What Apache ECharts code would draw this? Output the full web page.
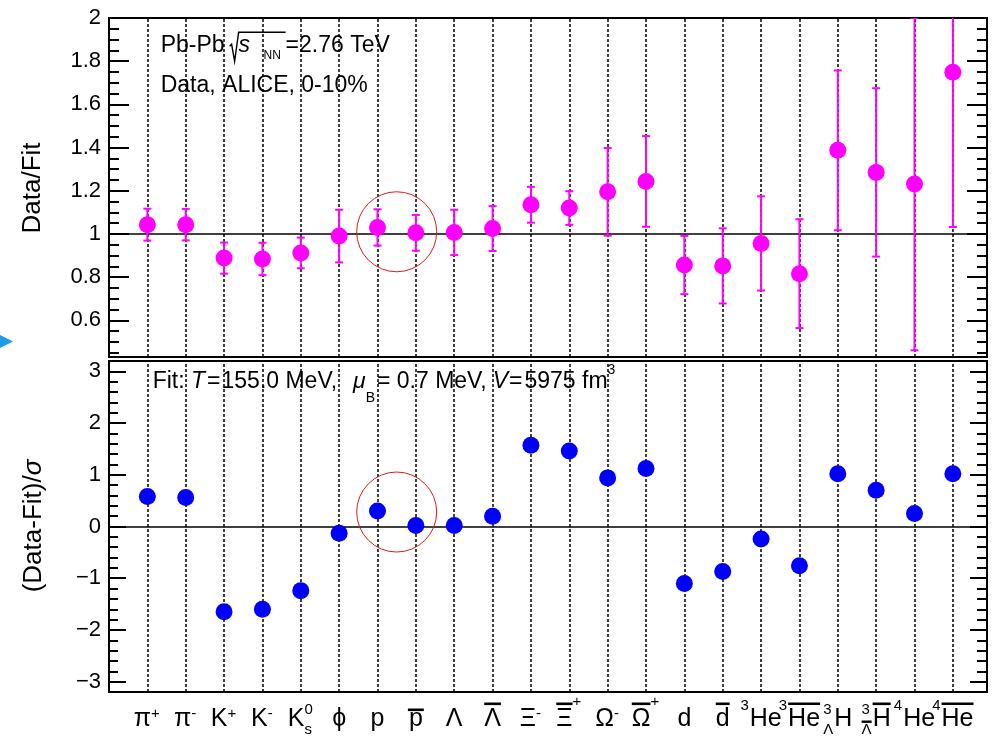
<!DOCTYPE html>
<html>
<head>
<meta charset="utf-8">
<script src="https://cdn.jsdelivr.net/npm/echarts@6/dist/echarts.min.js"></script>
<style>
  html, body { margin: 0; padding: 0; background: #fff; }
  #chart { width: 993px; height: 740px; }
</style>
</head>
<body>
<div id="chart"></div>
<script>
// Particle species, in plotting order
const particles = ['π+', 'π-', 'K+', 'K-', 'K0s', 'ϕ', 'p', 'p̄', 'Λ', 'Λ̄', 'Ξ-', 'Ξ̄+',
  'Ω-', 'Ω̄+', 'd', 'd̄', '3He', '3He̅', '3ΛH', '3Λ̄H̄', '4He', '4He̅'];

// Data/Fit ratio and its uncertainty
const ratio = [1.043, 1.043, 0.888, 0.884, 0.912, 0.990, 1.030, 1.005, 1.007, 1.025, 1.135, 1.120,
  1.195, 1.243, 0.856, 0.852, 0.956, 0.816, 1.387, 1.285, 1.231, 1.749];
const ratioErr = [0.074, 0.073, 0.072, 0.075, 0.071, 0.122, 0.084, 0.083, 0.105, 0.104, 0.083, 0.078,
  0.203, 0.210, 0.135, 0.174, 0.218, 0.252, 0.370, 0.390, 0.770, 0.717];

// (Data-Fit)/sigma
const deviation = [0.58, 0.56, -1.65, -1.60, -1.24, -0.13, 0.30, 0.02, 0.02, 0.20, 1.57, 1.46,
  0.94, 1.12, -1.10, -0.87, -0.24, -0.76, 1.02, 0.70, 0.25, 1.02];

// Axis tick labels
const ratioTicks = [0.6, 0.8, 1, 1.2, 1.4, 1.6, 1.8, 2];
const deviationTicks = [-3, -2, -1, 0, 1, 2, 3];

// Category tick labels, as pieces: main text, super/subscripts, overbars
const particleLabels = [
  [{ t: 'π' }, { sup: '+' }],
  [{ t: 'π' }, { sup: '-' }],
  [{ t: 'K' }, { sup: '+' }],
  [{ t: 'K' }, { sup: '-' }],
  [{ t: 'K' }, { sup: '0', sub: 's' }],
  [{ t: 'ϕ' }],
  [{ t: 'p' }],
  [{ t: 'p', bar: 'low' }],
  [{ t: 'Λ' }],
  [{ t: 'Λ', bar: 'cap' }],
  [{ t: 'Ξ' }, { sup: '-' }],
  [{ t: 'Ξ', bar: 'cap' }, { sup: '+', high: true }],
  [{ t: 'Ω' }, { sup: '-' }],
  [{ t: 'Ω', bar: 'cap' }, { sup: '+', high: true }],
  [{ t: 'd' }],
  [{ t: 'd', bar: 'cap' }],
  [{ sup: '3' }, { t: 'He' }],
  [{ sup: '3' }, { t: 'He', bar: 'cap' }],
  [{ sup: '3', sub: 'Λ' }, { t: 'H' }],
  [{ sup: '3', sub: 'Λ', subBar: true }, { t: 'H', bar: 'cap' }],
  [{ sup: '4' }, { t: 'He' }],
  [{ sup: '4' }, { t: 'He', bar: 'cap' }]
];

const FONT = '"Liberation Sans", Arial, Helvetica, sans-serif';
const MAGENTA = '#ff00ff';
const BLUE = '#0000ff';

// Minor tick positions
const ratioMinor = [];
for (let k = 9; k <= 40; k++) if (k % 4 !== 0) ratioMinor.push(+(k * 0.05).toFixed(2));
const deviationMinor = [];
for (let k = -16; k <= 16; k++) if (k % 5 !== 0) deviationMinor.push(+(k * 0.2).toFixed(1));

const minusFmt = v => (v < 0 ? '\u2212' + (-v) : String(v));

function tickAxis(gridIndex, position, min, max, values, len, fmt) {
  return {
    type: 'value', gridIndex, position, min, max,
    axisLine: { show: false, onZero: false },
    splitLine: { show: false },
    axisTick: { show: true, inside: true, length: len, customValues: values,
      lineStyle: { color: '#000', width: 2 } },
    axisLabel: fmt ? { show: true, customValues: values, margin: 8, fontSize: 22,
      color: '#000', fontFamily: FONT, formatter: fmt } : { show: false }
  };
}

const xMin = -1, xMax = 21.89;
const xAxisBase = gridIndex => ({
  type: 'value', gridIndex, min: xMin, max: xMax, show: false,
  axisLine: { onZero: false }, splitLine: { show: false }
});

const dashLines = particles.map((_, i) => ({
  xAxis: i, lineStyle: { type: [3, 2], width: 1.5, color: '#000' }
}));

const guideLines = ref => ({
  silent: true, z: 1, symbol: ['none', 'none'], label: { show: false }, animation: false,
  data: dashLines.concat([{ yAxis: ref, lineStyle: { type: 'solid', width: 1.5, color: '#000' } }])
});

const chart = echarts.init(document.getElementById('chart'));
chart.setOption({
  animation: false,
  backgroundColor: '#fff',
  textStyle: { fontFamily: FONT },
  grid: [
    { left: 109, right: 6, top: 18, height: 339, show: true, borderColor: '#000', borderWidth: 2 },
    { left: 109, right: 6, top: 361, height: 331, show: true, borderColor: '#000', borderWidth: 2 }
  ],
  xAxis: [xAxisBase(0), xAxisBase(1)],
  yAxis: [
    tickAxis(0, 'left', 0.43, 2, ratioTicks, 20, v => String(v)),
    tickAxis(0, 'left', 0.43, 2, ratioMinor, 10),
    tickAxis(0, 'right', 0.43, 2, ratioTicks, 20),
    tickAxis(0, 'right', 0.43, 2, ratioMinor, 10),
    tickAxis(1, 'left', -3.2, 3.2, deviationTicks, 17, minusFmt),
    tickAxis(1, 'left', -3.2, 3.2, deviationMinor, 9),
    tickAxis(1, 'right', -3.2, 3.2, deviationTicks, 17),
    tickAxis(1, 'right', -3.2, 3.2, deviationMinor, 10)
  ],
  series: [
    {
      name: 'ratio-errors', type: 'custom', xAxisIndex: 0, yAxisIndex: 0, z: 4, clip: true,
      data: ratio.map((v, i) => [i, v, ratioErr[i]]),
      encode: { x: 0, y: 1 },
      renderItem(params, api) {
        const x = api.value(0), v = api.value(1), e = api.value(2);
        const hi = api.coord([x, v + e]), lo = api.coord([x, v - e]);
        const c = 4, st = { stroke: MAGENTA, lineWidth: 2 };
        return { type: 'group', children: [
          { type: 'line', shape: { x1: hi[0], y1: hi[1], x2: lo[0], y2: lo[1] }, style: st },
          { type: 'line', shape: { x1: hi[0] - c, y1: hi[1], x2: hi[0] + c, y2: hi[1] }, style: st },
          { type: 'line', shape: { x1: lo[0] - c, y1: lo[1], x2: lo[0] + c, y2: lo[1] }, style: st }
        ] };
      },
      markLine: guideLines(1)
    },
    {
      name: 'ratio', type: 'scatter', xAxisIndex: 0, yAxisIndex: 0, z: 6,
      symbol: 'circle', symbolSize: 17, itemStyle: { color: MAGENTA, opacity: 1 },
      data: ratio.map((v, i) => [i, v])
    },
    {
      name: 'guides', type: 'line', xAxisIndex: 1, yAxisIndex: 4, z: 1, data: [],
      markLine: guideLines(0)
    },
    {
      name: 'deviation', type: 'scatter', xAxisIndex: 1, yAxisIndex: 4, z: 6,
      symbol: 'circle', symbolSize: 17, itemStyle: { color: BLUE, opacity: 1 },
      data: deviation.map((v, i) => [i, v])
    }
  ]
});

// ---- text helpers -------------------------------------------------------
const measureCtx = document.createElement('canvas').getContext('2d');
function tw(str, size, italic) {
  measureCtx.font = (italic ? 'italic ' : '') + size + 'px ' + FONT;
  return measureCtx.measureText(str).width;
}
function textEl(str, x, baseline, size, italic) {
  return {
    type: 'text', silent: true, z: 10,
    style: { text: str, x, y: baseline - 0.35 * size, fontSize: size, fontFamily: FONT,
      fontStyle: italic ? 'italic' : 'normal', fill: '#000', align: 'left', verticalAlign: 'middle' }
  };
}
function rectEl(x, y, w, h) {
  return { type: 'rect', silent: true, z: 10, shape: { x, y, width: w, height: h }, style: { fill: '#000' } };
}

// Lay out a run of pieces left to right; returns elements and end x
function run(pieces, x0, base) {
  const els = [];
  let x = x0;
  pieces.forEach(p => {
    if (p.gap) { x += p.gap; return; }
    const size = p.size || 23;
    const b = base + (p.dy || 0);
    els.push(textEl(p.s, x, b, size, p.i));
    x += tw(p.s, size, p.i);
  });
  return { els, x };
}

// ---- category labels under the lower panel -------------------------------
const MAIN = 25, SMALL = 15, BASE = 728;
function buildLabel(pieces, cx) {
  const widths = pieces.map(p => p.t ? tw(p.t, MAIN)
    : Math.max(p.sup ? tw(p.sup, SMALL) : 0, p.sub ? tw(p.sub, SMALL) : 0) + 1);
  const total = widths.reduce((a, b) => a + b, 0);
  let x = cx - total / 2;
  const els = [];
  pieces.forEach((p, k) => {
    if (p.t) {
      els.push(textEl(p.t, x, BASE, MAIN));
      if (p.bar === 'low') els.push(rectEl(x - 1, 708.5, widths[k] + 2, 2.6));
      if (p.bar === 'cap') els.push(rectEl(x, 702.5, widths[k], 2.6));
    } else {
      if (p.sup) {
        const digit = /[0-9]/.test(p.sup);
        const b = p.high ? 707 : (digit ? (p.sub ? 715 : 711) : 719);
        els.push(textEl(p.sup, x, b, SMALL));
      }
      if (p.sub) els.push(textEl(p.sub, x, 735, SMALL));
      if (p.subBar) els.push(rectEl(x, 720.5, widths[k] - 1, 2.4));
    }
    x += widths[k];
  });
  return els;
}

const graphics = [];
particleLabels.forEach((pieces, i) => {
  const cx = chart.convertToPixel({ xAxisIndex: 1 }, i);
  graphics.push(...buildLabel(pieces, cx));
});

// ---- axis titles ---------------------------------------------------------
graphics.push({
  type: 'text', silent: true, x: 33, y: 188, rotation: Math.PI / 2,
  style: { text: 'Data/Fit', x: 0, y: 0, fontSize: 26, fontFamily: FONT, fill: '#000',
    align: 'center', verticalAlign: 'middle' }
});
graphics.push({
  type: 'text', silent: true, x: 34, y: 526, rotation: Math.PI / 2,
  style: { text: '(Data-Fit)/{i|σ}', x: 0, y: 0, fontSize: 26, fontFamily: FONT, fill: '#000',
    align: 'center', verticalAlign: 'middle',
    rich: { i: { fontSize: 26, fontStyle: 'italic', fontFamily: FONT, fill: '#000' } } }
});

// ---- header text of the upper panel --------------------------------------
{
  const b = 53.3;
  const r1 = run([{ s: 'Pb-Pb' }], 160.7, b);
  graphics.push(...r1.els);
  const r0 = r1.x + 5;
  graphics.push({
    type: 'polyline', silent: true, z: 10,
    shape: { points: [[r0, b - 7], [r0 + 2, b - 9], [r0 + 5, b + 8], [r0 + 9, b - 21], [r0 + 56, b - 21]] },
    style: { stroke: '#000', lineWidth: 1.4, fill: null }
  });
  graphics.push(textEl('s', r0 + 9, b, 23, true));
  graphics.push(textEl('NN', r0 + 34, b + 7, 12));
  graphics.push(...run([{ s: '=2.76 TeV' }], r0 + 56, b).els);
  graphics.push(...run([{ s: 'Data, ALICE, 0-10%' }], 160.7, 94).els);
}

// ---- fit parameters in the lower panel -----------------------------------
{
  const b = 390;
  graphics.push(...run([
    { s: 'Fit: ' }, { s: 'T', i: true }, { gap: 2 }, { s: '=' }, { gap: 1 }, { s: '155.0 MeV,' },
    { gap: 16 }, { s: 'μ', i: true }, { s: 'B', size: 14, dy: 13 }, { gap: 2 },
    { s: '= 0.7 MeV,' }, { gap: 6 }, { s: 'V', i: true }, { gap: 1 }, { s: '=' }, { gap: 2 },
    { s: '5975 fm' }, { s: '3', size: 14, dy: -15 }
  ], 152.7, b).els);
}

// ---- highlight rings around the proton / antiproton pair ------------------
{
  const pTop = chart.convertToPixel({ seriesIndex: 1 }, [6.5, 1.01]);
  const pBot = chart.convertToPixel({ seriesIndex: 3 }, [6.5, 0.28]);
  [pTop, pBot].forEach(c => graphics.push({
    type: 'circle', silent: true, z: 11, shape: { cx: c[0], cy: c[1], r: 40 },
    style: { stroke: '#e01a1a', lineWidth: 1, fill: null }
  }));
}

// ---- pointer marker at the left edge --------------------------------------
graphics.push({
  type: 'polygon', silent: true, z: 11,
  shape: { points: [[0, 335], [13, 341.5], [0, 348]] },
  style: { fill: '#1e9be8' }
});

chart.setOption({ graphic: graphics });
</script>
</body>
</html>
